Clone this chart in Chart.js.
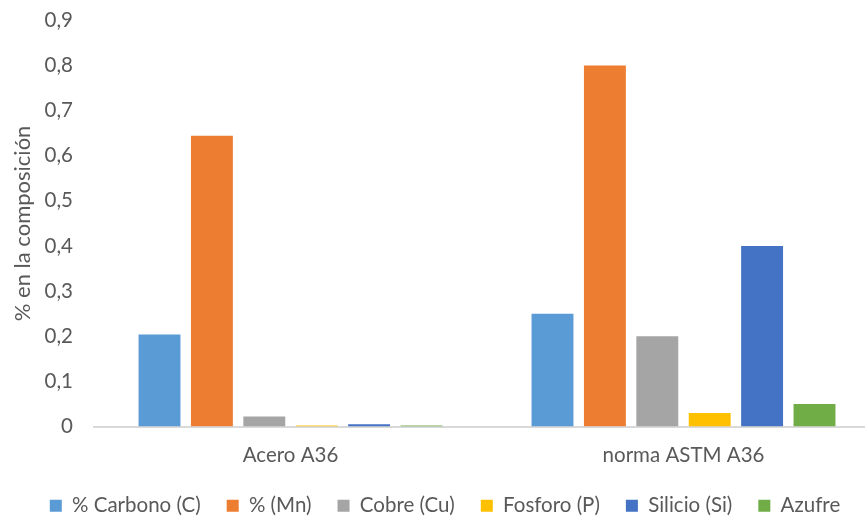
<!DOCTYPE html>
<html>
<head>
<meta charset="utf-8">
<script src="https://cdn.jsdelivr.net/npm/chart.js@4.4.1/dist/chart.umd.min.js"></script>
<style>
  html, body { margin: 0; padding: 0; background: #ffffff; overflow: hidden; }
  #wrap { width: 880px; height: 532px; margin-top: -13px; }
</style>
</head>
<body>
<div id="wrap"><canvas id="c" width="880" height="532"></canvas></div>
<script>
// Composición química: acero A36 medido frente a la norma ASTM A36
const categories = ['Acero A36', 'norma ASTM A36'];
const seriesNames = ['% Carbono (C)', '% (Mn)', 'Cobre (Cu)', 'Fosforo (P)', 'Silicio (Si)', 'Azufre'];
const carbono = [0.204, 0.25];
const manganeso = [0.644, 0.80];
const cobre = [0.022, 0.20];
const fosforo = [0.002, 0.03];
const silicio = [0.005, 0.40];
const azufre = [0.002, 0.05];
const yTicks = [0, 0.1, 0.2, 0.3, 0.4, 0.5, 0.6, 0.7, 0.8, 0.9];

const colors = ['#5B9BD5', '#ED7D31', '#A5A5A5', '#FFC000', '#4472C4', '#70AD47'];
const values = [carbono, manganeso, cobre, fosforo, silicio, azufre];

const textColor = '#595959';
const fontFamily = 'Lato, "Open Sans", sans-serif';
const fontSize = 20.5;

new Chart(document.getElementById('c'), {
  type: 'bar',
  data: {
    labels: categories,
    datasets: seriesNames.map((name, i) => ({
      label: name,
      data: values[i],
      backgroundColor: colors[i],
      borderWidth: 0,
      barPercentage: 0.8,
      categoryPercentage: 0.8
    }))
  },
  options: {
    responsive: false,
    animation: false,
    layout: { padding: { left: 10, right: 0, top: 0, bottom: -7 } },
    plugins: {
      tooltip: { enabled: false },
      legend: {
        position: 'bottom',
        labels: {
          boxWidth: 12,
          boxHeight: 12,
          padding: 26,
          color: textColor,
          font: { family: fontFamily, size: fontSize }
        }
      }
    },
    scales: {
      x: {
        grid: { display: false, drawTicks: false },
        border: { display: true, color: '#D9D9D9', width: 2 },
        ticks: { color: textColor, padding: 17, font: { family: fontFamily, size: fontSize } },
        afterFit: (s) => { s.height = 43; }
      },
      y: {
        min: 0,
        max: 0.9,
        grid: { display: false, drawTicks: false },
        border: { display: false },
        afterBuildTicks: (s) => { s.ticks = yTicks.map(v => ({ value: v })); },
        ticks: {
          color: textColor,
          padding: 21,
          font: { family: fontFamily, size: fontSize },
          callback: (v) => String(Math.round(v * 10) / 10).replace('.', ',')
        },
        title: {
          display: true,
          text: '% en la composición',
          color: textColor,
          padding: { top: 0, bottom: 0 },
          font: { family: fontFamily, size: 22 }
        },
        afterFit: (s) => { s.width = 84; }
      }
    }
  }
});
</script>
</body>
</html>
